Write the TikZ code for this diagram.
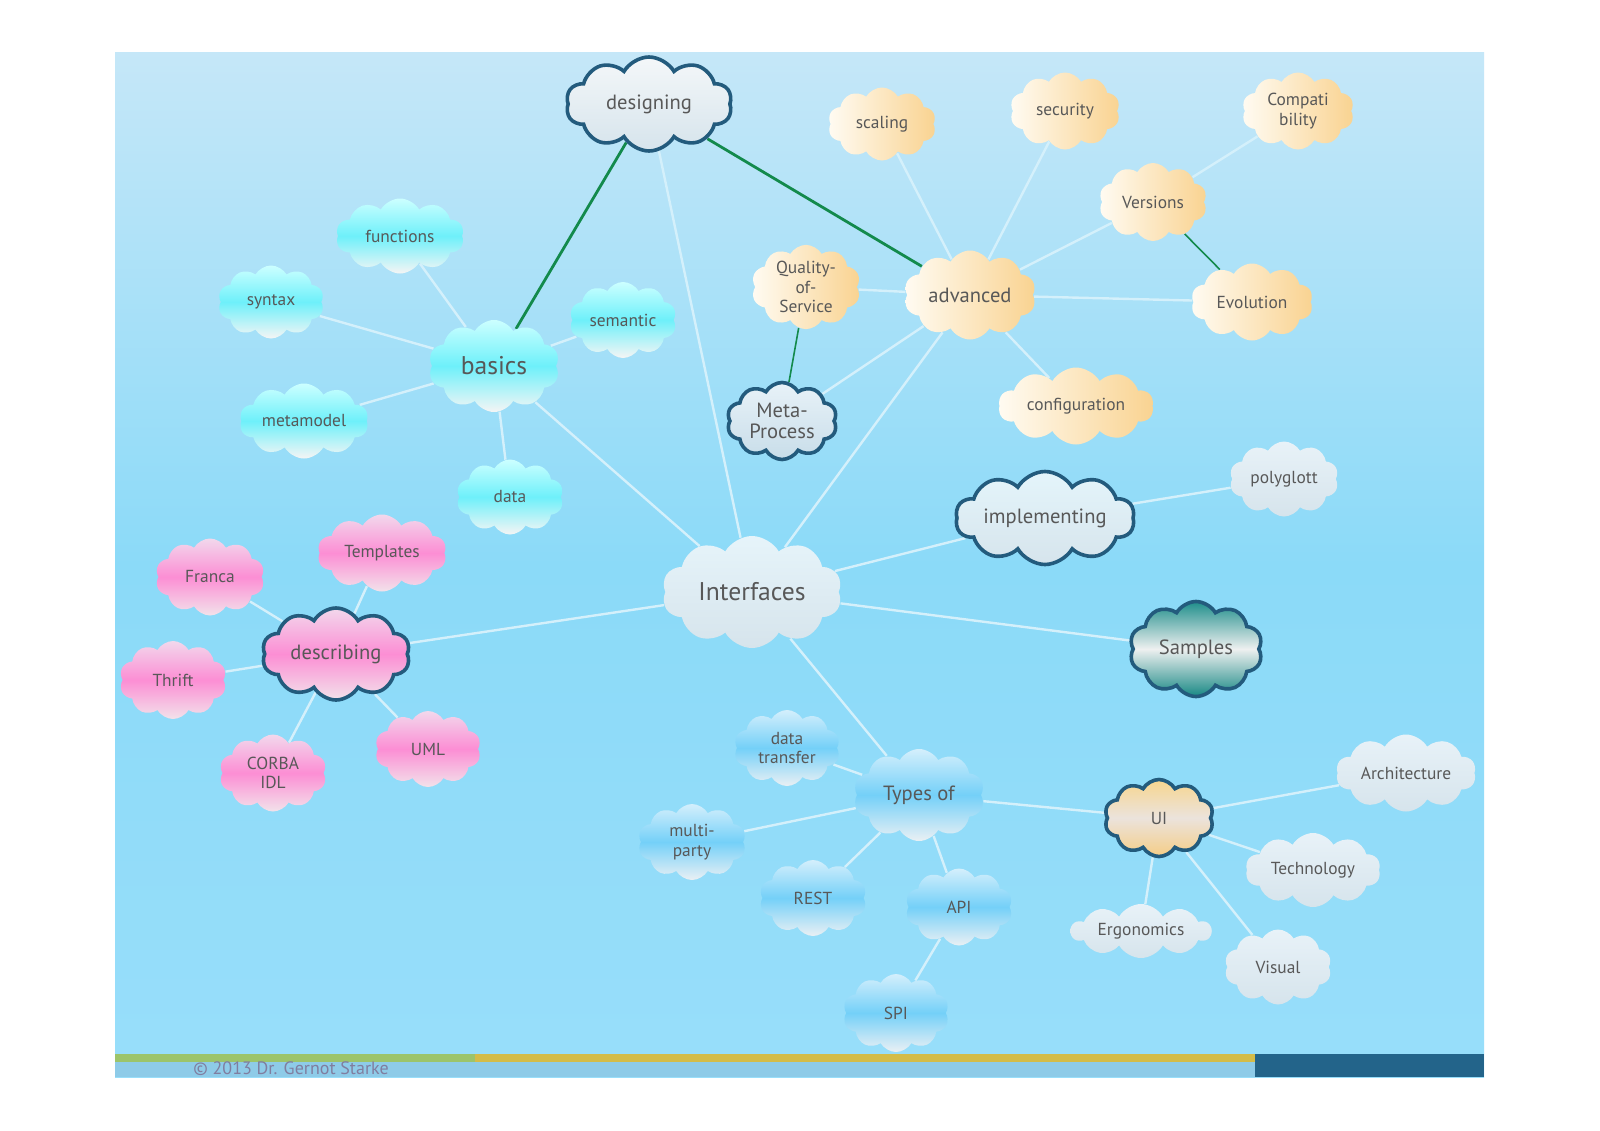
\documentclass[tikz,border=0pt]{standalone}
\usepackage{fontspec}
\setmainfont{PT Sans}
\usepackage{tikz}
\usetikzlibrary{shapes.symbols}
\definecolor{bgTop}{RGB}{197,231,248}
\definecolor{bgMid}{RGB}{139,218,248}
\definecolor{bgBot}{RGB}{152,222,250}
\definecolor{rimBlue}{RGB}{35,91,125}
\definecolor{linkGreen}{RGB}{19,138,76}
\definecolor{twigWhite}{RGB}{212,240,251}
\definecolor{inkGray}{RGB}{88,88,88}
\definecolor{barGreen}{RGB}{156,196,106}
\definecolor{barGold}{RGB}{212,188,72}
\definecolor{barNavy}{RGB}{35,100,138}
\definecolor{barSky}{RGB}{142,203,232}
\definecolor{copyInk}{RGB}{128,126,160}
\pgfdeclarelayer{backdrop}
\pgfdeclarelayer{links}
\pgfsetlayers{backdrop,links,main}

\begin{document}
\begin{tikzpicture}[x=0.5pt,y=-0.5pt,
  puff/.style={cloud,cloud puffs=10,cloud puff arc=120,cloud ignores aspect,inner sep=0pt,
    align=center,text=inkGray,font=\fontsize{8.7}{9.7}\selectfont},
  sz/.style 2 args={minimum width=#1*0.5pt,minimum height=#2*0.5pt},
  rim/.style={draw=rimBlue,line width=1.8pt},
  mid/.style={font=\fontsize{10.3}{10.7}\selectfont},
  big/.style={font=\fontsize{12.8}{14}\selectfont},
  cyanpuff/.style={puff,top color=cyan!20!white,bottom color=gray!8,middle color={rgb,255:red,110;green,240;blue,250}},
  peachpuff/.style={puff,left color={rgb,255:red,255;green,251;blue,242},right color={rgb,255:red,249;green,211;blue,145}},
  pinkpuff/.style={puff,top color={rgb,255:red,242;green,216;blue,236},bottom color={rgb,255:red,242;green,226;blue,234},middle color={rgb,255:red,252;green,142;blue,212}},
  skypuff/.style={puff,top color={rgb,255:red,212;green,239;blue,252},bottom color={rgb,255:red,234;green,240;blue,244},middle color={rgb,255:red,116;green,208;blue,248}},
  greypuff/.style={puff,top color={rgb,255:red,232;green,242;blue,248},bottom color={rgb,255:red,214;green,228;blue,236}},
  twig/.style={draw=twigWhite,line width=1.2pt},
  vine/.style={draw=linkGreen,line width=1.4pt},
]
  \useasboundingbox (0,0) rectangle (1600,1130);
  \begin{pgfonlayer}{backdrop}
    \fill[white] (0,0) rectangle (1600,1130);
    \shade[top color=bgTop,bottom color=bgBot,middle color=bgMid] (115,52) rectangle (1484,1077);
    \fill[barSky] (115,1062) rectangle (1255,1077);
    \fill[barGreen] (115,1054) rectangle (475,1062);
    \fill[barGold] (475,1054) rectangle (1255,1062);
    \fill[barNavy] (1255,1054) rectangle (1484,1077);
  \end{pgfonlayer}

  % centre
  \node[greypuff,big,sz={180}{112},top color={rgb,255:red,230;green,244;blue,250}] (interfaces) at (752,592) {Interfaces};

  % designing / basics
  \node[greypuff,rim,mid,sz={166}{94},top color={rgb,255:red,244;green,247;blue,249}] (designing) at (649,104) {designing};
  \node[cyanpuff,big,sz={131}{92}] (basics) at (494,366) {basics};
  \node[cyanpuff,sz={128}{75}] (functions) at (400,236) {functions};
  \node[cyanpuff,sz={106}{73}] (syntax) at (271,302) {syntax};
  \node[cyanpuff,sz={107}{76}] (semantic) at (623,320) {semantic};
  \node[cyanpuff,sz={129}{75}] (metamodel) at (304,421) {metamodel};
  \node[cyanpuff,sz={107}{75}] (data) at (510,497) {data};

  % advanced
  \node[peachpuff,mid,sz={132}{89}] (advanced) at (970,295) {advanced};
  \node[peachpuff,sz={108}{73}] (scaling) at (882,124) {scaling};
  \node[peachpuff,sz={110}{77}] (security) at (1065,111) {security};
  \node[peachpuff,sz={112}{77}] (compat) at (1298,111) {Compati\\bility};
  \node[peachpuff,sz={108}{78}] (versions) at (1153,202) {Versions};
  \node[peachpuff,sz={122}{77}] (evolution) at (1252,302) {Evolution};
  \node[peachpuff,sz={109}{77}] (quality) at (806,287) {Quality-\\of-\\Service};
  \node[peachpuff,sz={155}{77}] (config) at (1076,406) {configuration};
  \node[greypuff,rim,mid,sz={110}{77},bottom color={rgb,255:red,200;green,221;blue,233}] (meta) at (782,421) {Meta-\\Process};

  % implementing / samples
  \node[greypuff,rim,mid,sz={179}{93},top color={rgb,255:red,228;green,245;blue,251}] (implementing) at (1045,518) {implementing};
  \node[greypuff,sz={109}{75}] (polyglott) at (1284,479) {polyglott};
  \node[puff,rim,mid,sz={133}{95},top color={rgb,255:red,31;green,142;blue,139},bottom color={rgb,255:red,23;green,136;blue,132},middle color={rgb,255:red,238;green,240;blue,240}] (samples) at (1196,649) {Samples};

  % describing
  \node[pinkpuff,rim,mid,sz={148}{92}] (describing) at (336,654) {describing};
  \node[pinkpuff,sz={129}{77}] (templates) at (382,553) {Templates};
  \node[pinkpuff,sz={109}{77}] (franca) at (210,577) {Franca};
  \node[pinkpuff,sz={107}{78}] (thrift) at (173,680) {Thrift};
  \node[pinkpuff,sz={107}{77}] (corba) at (273,773) {CORBA\\IDL};
  \node[pinkpuff,sz={106}{76}] (uml) at (428,749) {UML};

  % types of
  \node[skypuff,mid,sz={131}{92}] (types) at (919,795) {Types of};
  \node[skypuff,sz={106}{76}] (transfer) at (787,748) {data\\transfer};
  \node[skypuff,sz={108}{76}] (multi) at (692,842) {multi-\\party};
  \node[skypuff,sz={107}{76}] (rest) at (813,898) {REST};
  \node[skypuff,sz={107}{77}] (api) at (959,907) {API};
  \node[skypuff,sz={106}{78}] (spi) at (896,1013) {SPI};

  % ui
  \node[puff,rim,sz={109}{77},top color={rgb,255:red,247;green,213;blue,142},bottom color={rgb,255:red,245;green,205;blue,134},middle color={rgb,255:red,235;green,227;blue,220}] (ui) at (1159,818) {UI};
  \node[greypuff,sz={140}{77}] (architecture) at (1406,773) {Architecture};
  \node[greypuff,sz={135}{74}] (technology) at (1313,870) {Technology};
  \node[greypuff,sz={140}{54}] (ergonomics) at (1141,931) {Ergonomics};
  \node[greypuff,sz={107}{75}] (visual) at (1278,967) {Visual};

  \node[text=copyInk,font=\fontsize{9}{10}\selectfont] (copy) at (291,1069) {© 2013 Dr. Gernot Starke};

  \begin{pgfonlayer}{links}
    \foreach \a/\b in {designing/interfaces,scaling/advanced,security/advanced,versions/advanced,
        compat/versions,advanced/evolution,quality/advanced,meta/advanced,advanced/config,
        advanced/interfaces,basics/functions,basics/syntax,basics/semantic,basics/metamodel,
        basics/data,basics/interfaces,interfaces/implementing,implementing/polyglott,
        interfaces/samples,interfaces/describing,describing/templates,describing/franca,
        describing/thrift,describing/corba,describing/uml,interfaces/types,types/transfer,
        types/multi,types/rest,types/api,types/ui,api/spi,ui/architecture,ui/technology,
        ui/ergonomics,ui/visual}
      \draw[twig] (\a) -- (\b);
    \draw[vine] (designing) -- (basics);
    \draw[vine] (designing) -- (advanced);
    \draw[vine,line width=0.8pt] (quality) -- (meta);
    \draw[vine,line width=0.8pt] (versions) -- (evolution);
  \end{pgfonlayer}
\end{tikzpicture}
\end{document}
